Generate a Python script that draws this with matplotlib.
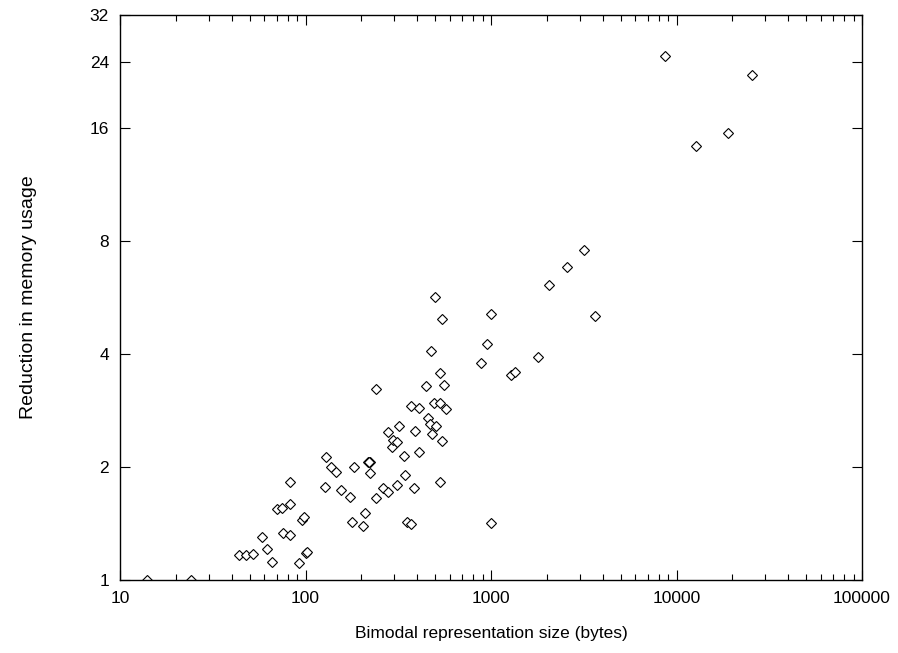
import numpy as np
from matplotlib import pyplot as plt
from matplotlib.ticker import FixedLocator, NullFormatter

# representation size in bytes
size_bytes = [14.0, 24.0, 44.0, 48.0, 52.0, 58.0, 62.3, 66.0, 70.0, 74.4,
              82.2, 82.2, 75.6, 82.2, 92.2, 95.7, 98.1, 100.3, 101.9, 129.4,
              127.8, 137.8, 145.5, 155.4, 173.7, 181.9, 216.4, 221.9, 223.6, 210.1,
              177.5, 204.9, 239.9, 261.7, 278.4, 312.6, 343.9, 340.9, 384.6, 409.3,
              531.1, 351.3, 371.9, 1000.0, 293.8, 297.5, 311.4, 546.5, 278.4, 319.2,
              388.0, 479.0, 457.6, 470.9, 503.4, 371.9, 407.7, 491.0, 529.1, 574.1,
              238.9, 444.6, 558.0, 533.1, 473.2, 546.5, 500.9, 996.3, 951.5, 886.6,
              1286.6, 1347.5, 1798.9, 3636.0, 2054.5, 2559.0, 3184.0, 8701.0, 25630.0, 19020.0,
              12740.0, 219.0]

# reduction factor in memory usage
reduction = [1.0, 1.0, 1.166, 1.166, 1.175, 1.304, 1.207, 1.115, 1.546, 1.552,
             1.591, 1.828, 1.332, 1.316, 1.110, 1.445, 1.474, 1.180, 1.185, 2.127,
             1.769, 2.0, 1.940, 1.740, 1.667, 1.996, 2.062, 2.062, 1.924, 1.508,
             1.430, 1.390, 1.657, 1.758, 1.712, 1.791, 1.900, 2.140, 1.755, 2.189,
             1.824, 1.425, 1.407, 1.421, 2.261, 2.356, 2.336, 2.342, 2.484, 2.577,
             2.499, 2.444, 2.706, 2.604, 2.567, 2.908, 2.867, 2.961, 2.967, 2.854,
             3.227, 3.293, 3.301, 3.560, 4.067, 4.958, 5.674, 5.103, 4.253, 3.792,
             3.517, 3.575, 3.920, 5.050, 6.118, 6.809, 7.570, 24.93, 22.19, 15.55,
             14.33, 2.062]

x_ticks = [10, 100, 1000, 10000, 100000]
y_ticks = [1, 2, 4, 8, 16, 24, 32]

plt.rcParams['font.family'] = ['Liberation Sans', 'DejaVu Sans']

fig = plt.figure(figsize=(8.98, 6.53), dpi=100)
ax = fig.add_axes([120 / 898, 73 / 653, 742 / 898, 565 / 653])

ax.plot(size_bytes, reduction, linestyle='none', marker='D', markersize=4.6,
        markerfacecolor='white', markeredgecolor='black', markeredgewidth=0.8)

ax.set_xscale('log')
ax.set_yscale('log', base=2)
ax.set_xlim(10, 100000)
ax.set_ylim(1, 32)

ax.xaxis.set_major_locator(FixedLocator(x_ticks))
ax.set_xticklabels([str(t) for t in x_ticks])
minors = [m * 10 ** e for e in range(1, 5) for m in range(2, 10)]
ax.xaxis.set_minor_locator(FixedLocator(minors))
ax.xaxis.set_minor_formatter(NullFormatter())

ax.yaxis.set_major_locator(FixedLocator(y_ticks))
ax.set_yticklabels([str(t) for t in y_ticks])
ax.yaxis.set_minor_locator(FixedLocator([]))

ax.tick_params(which='both', direction='in', top=True, right=True, labelsize=12.5)
ax.tick_params(which='major', length=7, width=0.8)
ax.tick_params(which='minor', length=4, width=0.8)
ax.tick_params(axis='x', pad=8)
ax.tick_params(axis='y', pad=8)

for s in ax.spines.values():
    s.set_linewidth(1.0)

ax.set_xlabel('Bimodal representation size (bytes)', fontsize=12.5, labelpad=14)
ax.set_ylabel('Reduction in memory usage', fontsize=14, labelpad=38)

fig.savefig('out.png', dpi=100)
